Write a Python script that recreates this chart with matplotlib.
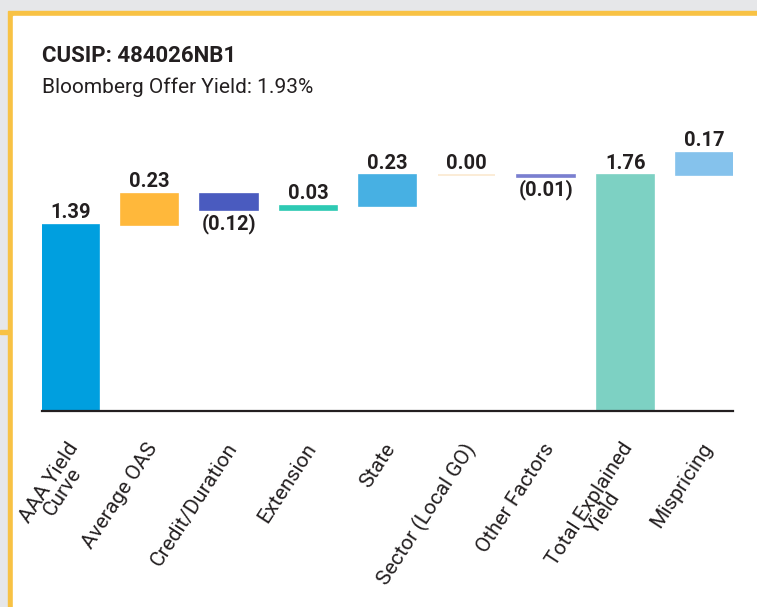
import matplotlib.pyplot as plt
from matplotlib.patches import Rectangle
from matplotlib.transforms import ScaledTranslation

# data
categories = ["AAA Yield\nCurve", "Average OAS", "Credit/Duration", "Extension", "State",
              "Sector (Local GO)", "Other Factors", "Total Explained\nYield", "Mispricing"]
values = [1.39, 0.23, -0.12, 0.03, 0.23, 0.00, -0.01, 1.76, 0.17]
is_total = [True, False, False, False, False, False, False, True, False]
colors = ["#009fdf", "#ffb83b", "#4a5bbf", "#2ec9b3", "#47b0e3",
          "#fbe9d0", "#7a7fd0", "#7dd1c3", "#85c2ec"]

title = "CUSIP: 484026NB1"
subtitle = "Bloomberg Offer Yield: 1.93%"

plt.rcParams['font.family'] = ['Roboto', 'DejaVu Sans']
ink = "#231f20"

fig = plt.figure(figsize=(7.57, 6.07), dpi=100)
W, H = 757, 607

# card frame: grey margin + yellow border
fig.patches.append(Rectangle((0, 0), 1, 1, transform=fig.transFigure, color="#e6e7e9", zorder=-3))
fig.patches.append(Rectangle((8 / W, 0), 1, (H - 11) / H, transform=fig.transFigure, color="#f8c244", zorder=-2))
fig.patches.append(Rectangle((13 / W, 0), 1, (H - 16) / H, transform=fig.transFigure, color="white", zorder=-1))
fig.patches.append(Rectangle((0, (H - 334) / H), 8 / W, 4 / H, transform=fig.transFigure, color="#f8c244", zorder=-1))

ax = fig.add_axes([42 / W, (H - 411) / H, 691 / W, 281 / H])
ax.set_facecolor("none")

# waterfall positions
bottoms = []
running = 0
for v, t in zip(values, is_total):
    if t:
        bottoms.append(0)
        running = v
    else:
        bottoms.append(running)
        running += v

x = list(range(len(values)))
ax.bar(x, values, bottom=bottoms, width=0.72, color=colors, edgecolor=colors, linewidth=1.2)

for i, (v, b) in enumerate(zip(values, bottoms)):
    if v < 0:
        ax.annotate(f"({abs(v):.2f})", (i, b + v), xytext=(0, -2), textcoords="offset points",
                    ha="center", va="top", fontsize=14.5, fontweight="bold", color=ink)
    else:
        ax.annotate(f"{v:.2f}", (i, b + v), xytext=(0, 2), textcoords="offset points",
                    ha="center", va="bottom", fontsize=14.5, fontweight="bold", color=ink)

ax.set_xlim(-0.36, len(values) - 0.64)
ax.set_ylim(0, 2.1)
for s in ["top", "right", "left"]:
    ax.spines[s].set_visible(False)
ax.spines["bottom"].set_linewidth(1.6)
ax.spines["bottom"].set_color(ink)
ax.set_yticks([])
ax.set_xticks(x)
ax.tick_params(axis="x", length=0, pad=20.5)
ax.set_xticklabels(categories, rotation=57, ha="right", va="top", rotation_mode="anchor",
                   multialignment="center", fontsize=15, fontweight="normal", color=ink,
                   linespacing=0.8)
# nudge the rotated labels a bit to the left
shift = ScaledTranslation(-4 / 100, 0, fig.dpi_scale_trans)
for lbl in ax.get_xticklabels():
    lbl.set_transform(lbl.get_transform() + shift)

fig.text(42 / W, 1 - 62 / H, title, fontsize=16, fontweight="bold", color=ink)
fig.text(42 / W, 1 - 93 / H, subtitle, fontsize=15, fontweight="normal", color=ink)

fig.savefig("out.png", dpi=100)
